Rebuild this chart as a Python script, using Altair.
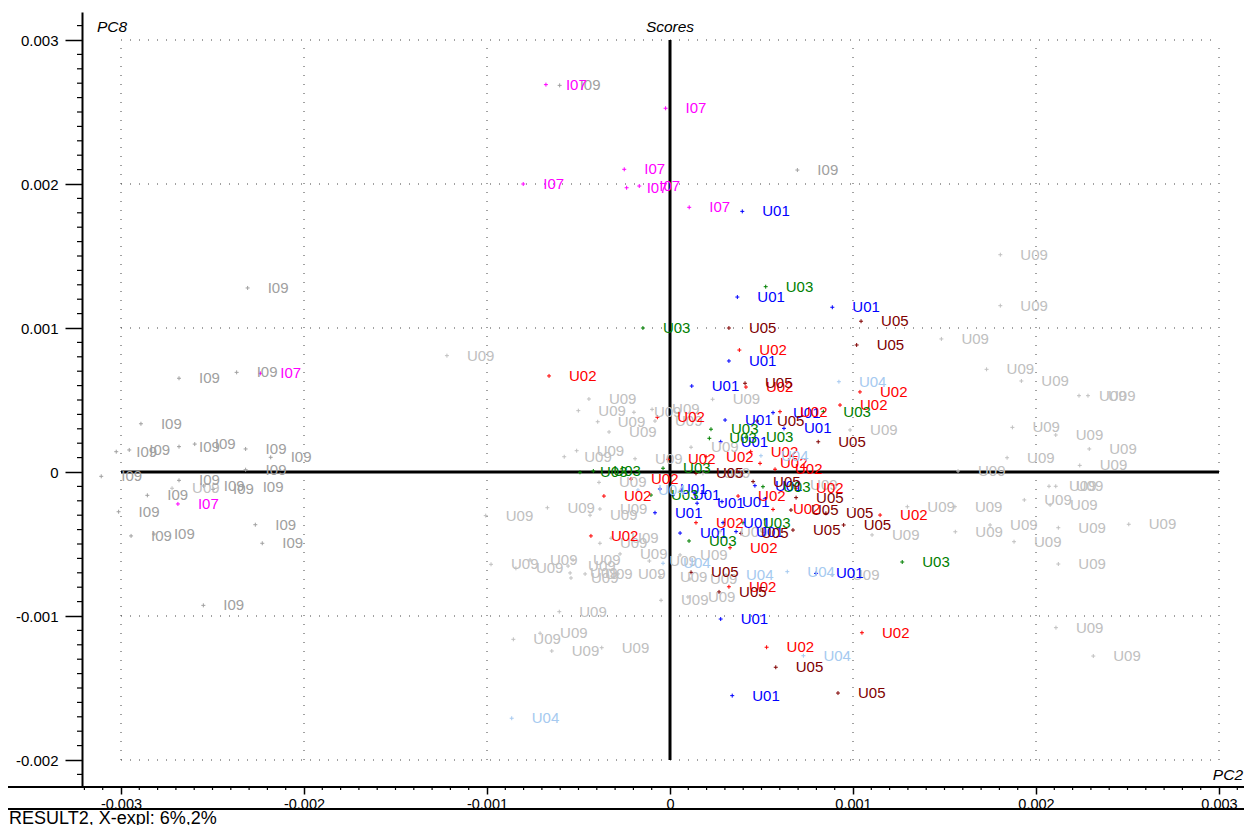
import altair as alt
import pandas as pd

# Scores, values in units of 1e-3 (PC2, PC8)
I07 = [(-0.678, 2.690), (-0.024, 2.526), (-0.250, 2.102), (-0.802, 2.000), (-0.237, 1.974),
       (-0.168, 1.986), (0.105, 1.838), (-2.239, 0.685), (-2.689, -0.222)]
I09 = [(-0.603, 2.685), (0.696, 2.097), (-2.308, 1.278), (-2.368, 0.692), (-2.683, 0.651),
       (-2.891, 0.335), (-3.026, 0.141), (-2.955, 0.153), (-2.683, 0.176), (-2.597, 0.194),
       (-2.319, 0.160), (-2.182, 0.102), (-2.319, 0.016), (-3.108, -0.030), (-2.683, -0.058),
       (-2.548, -0.097), (-2.497, -0.120), (-2.335, -0.102), (-2.856, -0.162), (-3.013, -0.276),
       (-2.266, -0.366), (-2.945, -0.444), (-2.820, -0.431), (-2.228, -0.495), (-2.550, -0.926)]
U01 = [(0.395, 1.810), (0.368, 1.215), (0.887, 1.144), (0.322, 0.771), (0.119, 0.597),
       (0.563, 0.412), (0.301, 0.361), (0.623, 0.303), (0.277, 0.210), (0.464, -0.095),
       (0.284, -0.206), (0.016, -0.160), (-0.082, -0.283), (0.290, -0.352), (0.361, -0.414),
       (0.055, -0.424), (0.798, -0.704), (0.277, -1.021), (0.340, -1.553), (-0.055, -0.118),
       (0.148, -0.217)]
U02 = [(0.379, 0.847), (-0.661, 0.667), (0.415, 0.590), (1.038, 0.556), (0.929, 0.465),
       (0.601, 0.419), (-0.069, 0.380), (0.441, 0.141), (0.492, 0.060), (0.574, 0.019),
       (0.197, 0.106), (-0.011, 0.088), (-0.213, -0.049), (-0.361, -0.167), (0.689, -0.113),
       (0.372, -0.167), (0.563, -0.260), (0.142, -0.352), (1.148, -0.299), (-0.432, -0.444),
       (0.328, -0.526), (0.322, -0.797), (1.049, -1.116), (0.528, -1.217)]
U03 = [(0.523, 1.287), (-0.148, 1.000), (0.838, 0.419), (0.224, 0.297), (0.415, 0.241),
       (0.215, 0.234), (-0.492, -0.002), (-0.419, 0.007), (-0.038, 0.026), (0.508, -0.102),
       (-0.104, -0.160), (0.399, -0.352), (0.104, -0.479), (1.269, -0.625)]
U04 = [(0.923, 0.627), (0.497, 0.113), (-0.175, -0.125), (-0.038, -0.634), (0.306, -0.715),
       (0.641, -0.692), (0.729, -1.276), (-0.865, -1.710)]
U05 = [(1.044, 1.047), (0.322, 1.000), (1.020, 0.882), (0.410, 0.616), (0.475, 0.354),
       (0.810, 0.210), (0.142, -0.009), (0.454, -0.067), (0.689, -0.178), (0.661, -0.264),
       (0.852, -0.287), (0.949, -0.368), (0.672, -0.403), (0.388, -0.426), (0.115, -0.697),
       (0.268, -0.833), (0.578, -1.356), (0.918, -1.535)]
U09 = [(-1.219, 0.808), (-2.721, -0.113),
       (1.805, 1.509), (1.805, 1.155), (1.483, 0.924), (1.730, 0.713), (1.920, 0.632),
       (2.235, 0.530), (2.284, 0.530), (0.984, 0.292), (1.871, 0.310), (2.108, 0.257),
       (2.291, 0.160), (1.842, 0.099), (2.239, 0.046), (1.574, 0.007), (2.071, -0.099),
       (2.108, -0.099), (1.936, -0.194), (2.077, -0.229), (1.297, -0.241), (1.557, -0.241),
       (2.122, -0.387), (2.507, -0.363), (1.104, -0.437), (1.559, -0.415), (1.749, -0.368),
       (1.880, -0.484), (2.122, -0.639), (2.109, -1.081), (2.313, -1.278), (0.885, -0.715),
       (-0.443, 0.507), (-0.501, 0.426), (-0.395, 0.349), (-0.333, 0.278), (-0.197, 0.415),
       (-0.098, 0.435), (-0.082, 0.354), (-0.510, 0.148), (-0.578, 0.106), (-0.191, 0.092),
       (-0.388, -0.072), (-0.670, -0.248), (-1.007, -0.303), (-0.383, -0.257), (-0.437, -0.300),
       (-0.383, -0.495), (-0.322, -0.460), (-0.978, -0.641), (-0.842, -0.669), (-0.765, -0.611),
       (-0.530, -0.611), (-0.557, -0.653), (-0.546, -0.701), (-0.541, -0.736), (-0.464, -0.708),
       (-0.113, -0.618), (-0.273, -0.569), (-0.284, -0.708), (-0.049, -0.891), (-0.605, -0.970),
       (-0.856, -1.162), (-0.710, -1.120), (-0.646, -1.243), (-0.373, -1.220), (0.055, -0.576),
       (-0.055, -0.727), (0.109, -0.743), (0.098, -0.868), (0.233, 0.505), (0.115, 0.172),
       (0.180, -0.010), (0.656, -0.090), (0.273, -0.414)]

series = {"U09": U09, "I09": I09, "I07": I07, "U01": U01, "U02": U02,
          "U03": U03, "U04": U04, "U05": U05}
group_order = ["I07", "I09", "U01", "U02", "U03", "U04", "U05", "U09"]
group_colors = ["#ff00ff", "#a0a0a0", "#0000ff", "#ff0000", "#008000", "#a6caf0", "#800000", "#c0c0c0"]

major_x = [-3, -2, -1, 0, 1, 2, 3]
major_y = [-2, -1, 0, 1, 2, 3]
grid_x = [-3, -2, -1, 1, 2, 3]
grid_y = [-2, -1, 1, 2, 3]

rows = []
for g, pts in series.items():
    for i, (px, py) in enumerate(pts):
        rows.append({"group": g, "pc2": px * 1e-3, "pc8": py * 1e-3, "order": len(rows)})
df = pd.DataFrame(rows)

W, H = 1162, 775
x_dom = [-588 / 183000, 574 / 183000]
y_dom = [-315 / 144000, 460 / 144000]

FONT = "Liberation Sans"
lab_expr = ("abs(datum.value) < 1e-9 ? '0' : (datum.value < 0 ? '-' : '') + "
            "format(abs(datum.value), '.3f')")

xs = alt.Scale(domain=x_dom, nice=False, zero=False)
ys = alt.Scale(domain=y_dom, nice=False, zero=False)

x_axis = alt.Axis(values=[v * 1e-3 for v in major_x], labelExpr=lab_expr, title=None,
                  grid=False, domain=False, tickSize=7, tickWidth=1.5, tickColor="black",
                  labelPadding=3, labelFont=FONT, labelFontSize=14.5, labelColor="black")
y_axis = alt.Axis(values=[v * 1e-3 for v in major_y], labelExpr=lab_expr, title=None,
                  grid=False, domain=True, domainColor="black", domainWidth=2,
                  tickSize=17, tickWidth=1.5, tickColor="black",
                  labelPadding=7, labelFont=FONT, labelFontSize=15, labelColor="black")

color = alt.Color("group:N", scale=alt.Scale(domain=group_order, range=group_colors), legend=None)

# grid lines (dotted)
gx = pd.DataFrame({"x": [v * 1e-3 for v in grid_x], "y1": -2e-3, "y2": 3e-3})
gy = pd.DataFrame({"y": [v * 1e-3 for v in grid_y], "x1": -3e-3, "x2": 3e-3})
grid_v = alt.Chart(gx).mark_rule(color="#444444", strokeDash=[1, 8], strokeWidth=1).encode(
    x=alt.X("x:Q", scale=xs, axis=x_axis), y=alt.Y("y1:Q", scale=ys, axis=y_axis), y2="y2:Q")
grid_h = alt.Chart(gy).mark_rule(color="#444444", strokeDash=[1, 8], strokeWidth=1).encode(
    y=alt.Y("y:Q", scale=ys), x=alt.X("x1:Q", scale=xs), x2="x2:Q")

zero_v = alt.Chart(pd.DataFrame({"x": [0.0], "y1": [-2e-3], "y2": [3e-3]})).mark_rule(
    color="black", strokeWidth=3).encode(x=alt.X("x:Q", scale=xs), y=alt.Y("y1:Q", scale=ys), y2="y2:Q")
zero_h = alt.Chart(pd.DataFrame({"y": [0.0], "x1": [-3e-3], "x2": [3e-3]})).mark_rule(
    color="black", strokeWidth=3).encode(y=alt.Y("y:Q", scale=ys), x=alt.X("x1:Q", scale=xs), x2="x2:Q")

# minor ticks
minor_x = [k * 1e-4 for k in range(-32, 32) if k % 10 != 0]
minor_y = [k * 1e-4 for k in range(-21, 32) if k % 10 != 0]
mtx = alt.Chart(pd.DataFrame({"x": minor_x})).mark_rule(color="black", strokeWidth=1.2, clip=False).encode(
    x=alt.X("x:Q", scale=xs), y=alt.value(H), y2=alt.value(H + 3))
mty = alt.Chart(pd.DataFrame({"y": minor_y})).mark_rule(color="black", strokeWidth=1.2, clip=False).encode(
    y=alt.Y("y:Q", scale=ys), x=alt.value(-5), x2=alt.value(0))

# long horizontal lines (x axis line and bottom separator)
axis_line = alt.Chart(pd.DataFrame({"k": [0]})).mark_rule(color="black", strokeWidth=2, clip=False).encode(
    x=alt.value(-74), x2=alt.value(W), y=alt.value(H))
sep_line = alt.Chart(pd.DataFrame({"k": [0]})).mark_rule(color="black", strokeWidth=2, clip=False).encode(
    x=alt.value(-74), x2=alt.value(W), y=alt.value(797))

pts = alt.Chart(df).mark_point(shape="M-1,0L1,0M0,-1L0,1", size=16, filled=False, strokeWidth=1,
                               opacity=1).encode(
    x=alt.X("pc2:Q", scale=xs), y=alt.Y("pc8:Q", scale=ys), color=color, order="order:Q")
labels = alt.Chart(df).mark_text(align="left", baseline="middle", dx=20, font=FONT, fontSize=15).encode(
    x=alt.X("pc2:Q", scale=xs), y=alt.Y("pc8:Q", scale=ys), text="group:N", color=color, order="order:Q")

title_scores = alt.Chart(pd.DataFrame({"t": ["Scores"]})).mark_text(
    font=FONT, fontSize=15.5, fontStyle="italic", align="center", baseline="middle", color="black").encode(
    x=alt.datum(0.0, scale=xs), y=alt.value(15), text="t:N")
title_pc8 = alt.Chart(pd.DataFrame({"t": ["PC8"]})).mark_text(
    font=FONT, fontSize=15.5, fontStyle="italic", align="left", baseline="middle", color="black").encode(
    x=alt.value(15), y=alt.value(15), text="t:N")
title_pc2 = alt.Chart(pd.DataFrame({"t": ["PC2"]})).mark_text(
    font=FONT, fontSize=15.5, fontStyle="italic", align="right", baseline="middle", color="black").encode(
    x=alt.value(W - 1), y=alt.value(763), text="t:N")
footer = alt.Chart(pd.DataFrame({"t": ["RESULT2, X-expl: 6%,2%"]})).mark_text(
    font=FONT, fontSize=18, align="left", baseline="alphabetic", color="black", clip=False).encode(
    x=alt.value(-73), y=alt.value(812), text="t:N")

chart = alt.layer(grid_v, grid_h, zero_v, zero_h, mtx, mty, axis_line, sep_line,
                  pts, labels, title_scores, title_pc8, title_pc2, footer).properties(
    width=W, height=H,
    padding={"left": 74, "top": 4, "right": 0, "bottom": 38},
    autosize=alt.AutoSizeParams(type="none"),
).configure_view(strokeWidth=0)

chart.save("out.html", embed_options={"renderer": "svg", "actions": False})
